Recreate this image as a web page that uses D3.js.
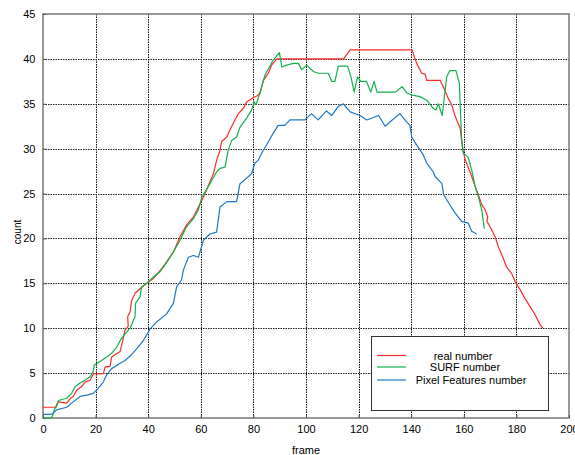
<!DOCTYPE html>
<html>
<head>
<meta charset="utf-8">
<script src="https://cdn.jsdelivr.net/npm/d3@7"></script>
<style>
  body { margin: 0; background: #fff; }
  svg text { font-family: "Liberation Sans", Arial, sans-serif; }
</style>
</head>
<body>
<svg id="chart"></svg>
<script>
// frame / count readings
let realNumber = [[0,1.2],[5,1.2],[5.8,1.8],[9,1.65],[10.5,2.2],[11.5,2.4],[12.8,3.1],[14.7,3.5],[16,4.0],[17.9,4.2],[19.1,4.9],[23,4.95],[23.6,5.7],[25.5,5.75],[26.1,6.8],[29.3,7.4],[29.9,8.1],[31.2,9.8],[32.4,10.2],[32.2,11.3],[33.1,11.8],[33.7,13.1],[35,13.9],[36.9,14.4],[39.4,15.0],[42,15.55],[44.5,16.4],[47,17.4],[49.6,18.5],[52.1,20.2],[54.6,21.5],[57.2,22.4],[59.1,23.5],[61,24.6],[62.9,25.9],[64.8,27.2],[66,28.7],[67.3,29.8],[67.9,30.8],[69.9,31.3],[71.1,32.1],[73,33.2],[74.3,33.9],[76.2,34.5],[77.4,35.2],[79.5,35.6],[81.5,35.9],[82.5,36.2],[83.8,37.6],[85.7,38.4],[86.9,39.3],[88.9,40.0],[114.3,40.0],[116.8,41.0],[140.3,41.0],[142.1,39.5],[144,38.4],[145.3,38.3],[145.9,37.6],[151,37.6],[152.2,36.9],[154.1,35.6],[155.4,34.9],[156.6,33.7],[158.6,32.3],[159.6,29.9],[160.5,28.8],[161.7,27.9],[163,26.9],[164.3,25.8],[165.5,24.9],[166.8,23.8],[168.1,23.2],[169.1,22.4],[168.8,21.9],[170,21.3],[171.9,20.2],[173.1,19.1],[175,17.8],[176.3,16.8],[178.2,16.1],[179.5,15.2],[181.4,14.3],[183.3,13.3],[185.2,12.4],[187.1,11.5],[189,10.4],[190,10.0]]

let surfNumber = [[0,0],[3.3,0],[4.5,1.0],[5.8,1.9],[6.5,2.0],[9,2.2],[10.9,2.75],[12.2,3.5],[14.1,3.9],[16,4.2],[17.9,4.6],[19.1,5.2],[19.5,5.9],[21.7,6.3],[24.2,6.8],[26.1,7.2],[28,7.9],[29.9,8.9],[33.1,10.0],[35,11.3],[35.2,12.8],[36.9,13.5],[37.5,14.6],[39.4,15.0],[42,15.7],[44.5,16.3],[47,17.3],[49.6,18.5],[52.1,19.8],[54.6,21.3],[57.2,22.2],[59.1,23.2],[60.4,24.6],[63.5,26.1],[66,27.4],[67.3,27.8],[69.2,27.95],[70.4,29.8],[71.7,30.9],[73.6,31.3],[74.9,32.4],[77.4,33.4],[79.3,34.3],[80.3,35.2],[81,34.9],[82.5,36.2],[84.4,38.2],[87.6,39.9],[89.9,40.7],[90.8,39.1],[92.7,39.3],[95.2,39.5],[97.1,39.5],[98.4,38.8],[100.3,39.3],[102.8,38.6],[104.7,38.4],[108.5,38.4],[109.8,37.5],[111,37.5],[112.3,39.2],[115.8,39.2],[117.1,38.0],[118.3,36.3],[119.6,38.0],[120.8,37.5],[123,37.5],[124.6,36.3],[125.9,37.5],[127,36.3],[129.6,36.3],[134,36.3],[136.5,36.9],[138.4,36.2],[140,36.0],[143.3,35.8],[145.9,35.4],[148.4,34.5],[149.4,34.3],[150.3,35.0],[151.8,33.7],[153.5,38.0],[154.7,38.7],[157,38.7],[158.3,37.3],[158.9,32.8],[159.2,31.0],[159.8,29.5],[161.7,29.0],[163,27.6],[164.3,25.8],[165.5,24.7],[166.8,23.2],[167.8,21.1]]

let pixelNumber = [[0,0.4],[3.3,0.4],[5.2,0.9],[9,1.2],[11.5,1.8],[14.1,2.4],[16.7,2.55],[19.1,2.75],[21,3.3],[22.9,4.0],[24.2,4.8],[26.1,5.5],[29.3,6.1],[31.2,6.4],[33.1,6.9],[35.6,7.7],[38.1,8.6],[40.7,9.9],[43.2,10.7],[47,11.6],[49.6,12.8],[50.8,14.6],[52.7,15.4],[53.4,16.5],[55.3,17.9],[57.2,18.1],[59.1,17.9],[61,19.8],[63.5,20.5],[66,20.7],[67.3,23.5],[69.9,24.1],[73.6,24.1],[74.9,26.1],[77.4,26.7],[79.3,27.2],[80.6,28.4],[81.8,28.7],[83.7,29.8],[85,30.4],[87.5,31.7],[89.4,32.6],[91.9,32.6],[93.9,33.2],[99.6,33.2],[102.1,33.9],[104.6,33.2],[107.8,34.2],[109.8,33.7],[112.3,34.7],[114.2,35.0],[116.8,34.1],[120.6,33.7],[123.1,33.2],[127.6,33.7],[130.1,32.5],[132,33.0],[135.7,33.9],[137.6,33.2],[139.5,32.6],[140.2,31.3],[142.1,30.4],[144.6,29.3],[145.9,28.4],[148.4,27.4],[149.1,26.9],[151.7,26.1],[152.3,24.9],[154.8,23.7],[156.8,22.8],[159.2,21.9],[161.7,21.7],[163,20.8],[164.9,20.5]]

let seriesNames = ["real number", "SURF number", "Pixel Features number"]
let seriesColors = ["#ff2a2a", "#12b14c", "#1f78c8"]
let xTicks = [0, 20, 40, 60, 80, 100, 120, 140, 160, 180, 200]
let yTicks = [0, 5, 10, 15, 20, 25, 30, 35, 40, 45]

let width = 575
let height = 455
let svg = d3.select("#chart").attr("width", width).attr("height", height)

let X = d3.scaleLinear().domain([0, 200]).range([43, 569])
let Y = d3.scaleLinear().domain([0, 45]).range([418, 14])

// grid
svg.append("g")
   .selectAll("line")
   .data(xTicks.slice(1, -1))
   .enter()
   .append("line")
   .attr("x1", d => Math.round(X(d)) + 0.5)
   .attr("x2", d => Math.round(X(d)) + 0.5)
   .attr("y1", Y(45))
   .attr("y2", Y(0))
   .attr("stroke", "#111")
   .attr("stroke-dasharray", "1.5,1")

svg.append("g")
   .selectAll("line")
   .data(yTicks.slice(1, -1))
   .enter()
   .append("line")
   .attr("x1", X(0))
   .attr("x2", X(200))
   .attr("y1", d => Math.round(Y(d)) + 0.5)
   .attr("y2", d => Math.round(Y(d)) + 0.5)
   .attr("stroke", "#222")
   .attr("stroke-dasharray", "1.5,1")

// frame box
svg.append("rect")
   .attr("x", X(0))
   .attr("y", Y(45))
   .attr("width", X(200) - X(0))
   .attr("height", Y(0) - Y(45))
   .attr("fill", "none")
   .attr("stroke", "#777")
   .attr("stroke-width", 1.5)

// axes
let xaxis = d3.axisBottom(X).tickValues(xTicks).tickSize(-3).tickPadding(7)
svg.append("g")
   .attr("transform", "translate(0," + Y(0) + ")")
   .call(xaxis)
   .call(g => g.select(".domain").remove())
   .call(g => g.selectAll("line").attr("stroke", "#555"))
   .call(g => g.selectAll("text").attr("font-size", 11).attr("fill", "#000").attr("font-family", "Liberation Sans, Arial, sans-serif"))

let yaxis = d3.axisLeft(Y).tickValues(yTicks).tickSize(-3).tickPadding(7.5)
svg.append("g")
   .attr("transform", "translate(" + X(0) + ",0)")
   .call(yaxis)
   .call(g => g.select(".domain").remove())
   .call(g => g.selectAll("line").attr("stroke", "#555"))
   .call(g => g.selectAll("text").attr("font-size", 11).attr("fill", "#000").attr("font-family", "Liberation Sans, Arial, sans-serif"))

svg.append("text")
   .attr("x", 306)
   .attr("y", 454)
   .attr("text-anchor", "middle")
   .attr("font-size", 11)
   .text("frame")

svg.append("text")
   .attr("transform", "translate(21,232) rotate(-90)")
   .attr("text-anchor", "middle")
   .attr("font-size", 10)
   .text("count")

// curves
let line = d3.line()
             .x(d => X(d[0]))
             .y(d => Y(d[1]))

let allSeries = [realNumber, surfNumber, pixelNumber]
svg.append("g")
   .selectAll("path")
   .data(allSeries)
   .enter()
   .append("path")
   .attr("fill", "none")
   .attr("stroke", (d, i) => seriesColors[i])
   .attr("stroke-width", 1.2)
   .attr("stroke-linejoin", "round")
   .attr("d", d => line(d))

// legend
let legend = svg.append("g").attr("transform", "translate(371,336)")
legend.append("rect")
      .attr("x", 0.5)
      .attr("y", 0.5)
      .attr("width", 177)
      .attr("height", 74)
      .attr("fill", "#fff")
      .attr("stroke", "#333")

let rows = legend.selectAll("g.row")
                 .data(seriesNames)
                 .enter()
                 .append("g")
                 .attr("class", "row")
                 .attr("transform", (d, i) => "translate(0," + [19.5, 31, 44][i] + ")")
rows.append("line")
    .attr("x1", 6)
    .attr("x2", 35)
    .attr("stroke", (d, i) => seriesColors[i])
    .attr("stroke-width", 1.2)
rows.append("text")
    .attr("x", (d, i) => [92, 94, 100][i])
    .attr("y", 4)
    .attr("text-anchor", "middle")
    .attr("font-size", 11)
    .text(d => d)
</script>
</body>
</html>
